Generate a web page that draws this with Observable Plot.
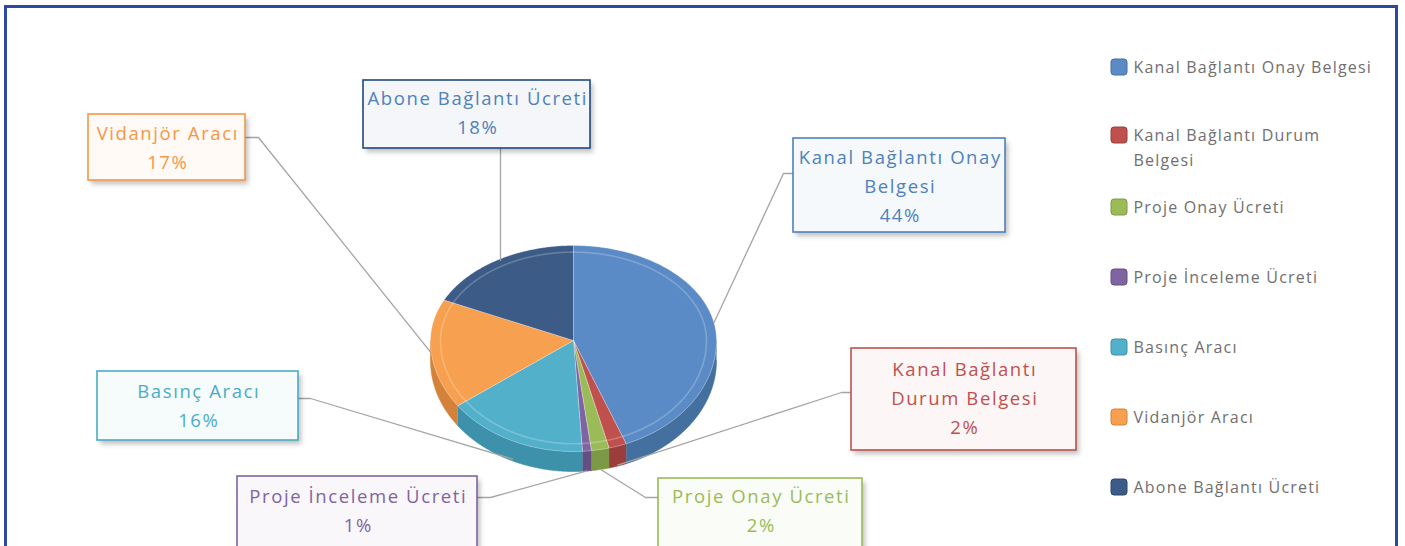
<!DOCTYPE html>
<html>
<head>
<meta charset="utf-8">
<script src="https://cdn.jsdelivr.net/npm/d3@7"></script>
<script src="https://cdn.jsdelivr.net/npm/@observablehq/plot@0.6"></script>
<style>
  html, body { margin: 0; padding: 0; background: #fff; }
  #wrap { position: relative; width: 1405px; height: 546px; overflow: hidden; }
  #frame { position: absolute; left: 4px; top: 5px; width: 1394px; height: 560px;
           border: 3px solid #2C4A9C; box-sizing: border-box; pointer-events: none; }
  g[aria-description="shadow"] { filter: blur(2.5px); }
  g[aria-description="labeltext"] text { letter-spacing: 1.6px; }
  g[aria-description="legendtext"] text { letter-spacing: 1.2px; }
</style>
</head>
<body>
<div id="wrap"><div id="chart"></div><div id="frame"></div></div>
<script>
// ---------- data ----------
const categories = [
  "Kanal Bağlantı Onay Belgesi",
  "Kanal Bağlantı Durum Belgesi",
  "Proje Onay Ücreti",
  "Proje İnceleme Ücreti",
  "Basınç Aracı",
  "Vidanjör Aracı",
  "Abone Bağlantı Ücreti"
];
const values = [44, 2, 2, 1, 16, 17, 18];
// data label text lines (as wrapped in the chart), percentage appended
const labelLines = [
  ["Kanal Bağlantı Onay", "Belgesi"],
  ["Kanal Bağlantı", "Durum Belgesi"],
  ["Proje Onay Ücreti"],
  ["Proje İnceleme Ücreti"],
  ["Basınç Aracı"],
  ["Vidanjör Aracı"],
  ["Abone Bağlantı Ücreti"]
];
const legendLines = [
  ["Kanal Bağlantı Onay Belgesi"],
  ["Kanal Bağlantı Durum", "Belgesi"],
  ["Proje Onay Ücreti"],
  ["Proje İnceleme Ücreti"],
  ["Basınç Aracı"],
  ["Vidanjör Aracı"],
  ["Abone Bağlantı Ücreti"]
];

// ---------- styles ----------
const topColors    = ["#5B8BC6", "#C0504D", "#9BBB59", "#8064A2", "#52B0CB", "#F7A050", "#3C5B87"];
const sideColors   = ["#44709F", "#9B3E3B", "#7C9A45", "#644E83", "#3D91AA", "#D4823A", "#2C456B"];
const textColors   = ["#4F81BD", "#C0504D", "#9BBB59", "#8064A2", "#4BACC6", "#F79646", "#4F81BD"];
const borderColors = ["#4F81BD", "#C0504D", "#9BBB59", "#8064A2", "#4BACC6", "#F79646", "#1F497D"];

// ---------- layout ----------
const W = 1405, H = 546;
const pie3d = {cx: 573, cy: 340, rx: 143, ryBack: 95, ryFront: 111, depth: 20};
// label boxes: [x1, y1, x2, y2, attachX, attachY, elbowX, firstLineY]
const labelBoxes = [
  [793, 138, 1005, 232, 793, 173, 783, 158],
  [851, 348, 1076, 450, 851, 392, 841, 370],
  [658, 478, 862, 560, 658, 497, 645, 497],
  [237, 476, 477, 560, 477, 497, 490, 497],
  [97, 371, 298, 440, 298, 398, 310, 392],
  [88, 114, 245, 180, 245, 137, 258, 134],
  [363, 80, 590, 148, 500, 148, 500, 99]
];
const lineStep = 28.7;
const legend = {x: 1111, size: 16, textX: 1133, top: 67, step: 70, wrap: 25};

// ---------- geometry ----------
function pt(aRad, r = 1, dz = 0) {
  const s = Math.sin(aRad), c = -Math.cos(aRad);
  return {
    x: pie3d.cx + pie3d.rx * r * s,
    y: pie3d.cy + (c < 0 ? pie3d.ryBack : pie3d.ryFront) * r * c + dz
  };
}
const arcs = d3.pie().sort(null).value(d => d)(values);
const step = Math.PI / 360;
function arcPts(a0, a1, r = 1, dz = 0) {
  const n = Math.max(2, Math.ceil((a1 - a0) / step));
  return d3.range(n + 1).map(k => pt(a0 + (a1 - a0) * k / n, r, dz));
}

const tops = [];
arcs.forEach((a, i) => {
  const c = categories[i];
  tops.push({cat: c, x: pie3d.cx, y: pie3d.cy});
  arcPts(a.startAngle, a.endAngle).forEach(p => tops.push({cat: c, ...p}));
  tops.push({cat: c, x: pie3d.cx, y: pie3d.cy});
});

const sides = arcs.map((a, i) => {
  const s0 = Math.max(a.startAngle, Math.PI / 2), s1 = Math.min(a.endAngle, 3 * Math.PI / 2);
  if (s1 <= s0) return [];
  const upper = arcPts(s0, s1);
  const lower = arcPts(s0, s1, 1, pie3d.depth).reverse();
  return [...upper, ...lower].map(p => ({cat: categories[i], ...p}));
});

const ring = arcPts(0, 2 * Math.PI, 0.93);

// leader lines
const leaders = [];
arcs.forEach((a, i) => {
  const mid = (a.startAngle + a.endAngle) / 2;
  const front = Math.max(0, -Math.cos(mid));
  let p = pt(mid, 1, pie3d.depth * front);
  const b = labelBoxes[i];
  if (i === 6) p = {x: b[4], y: p.y};
  leaders.push({id: i, x: p.x, y: p.y});
  leaders.push({id: i, x: b[6], y: b[5]});
  leaders.push({id: i, x: b[4], y: b[5]});
});

// label boxes & texts
const boxes = labelBoxes.map((b, i) => ({
  cat: categories[i], x1: b[0], y1: b[1], x2: b[2], y2: b[3],
  fill: d3.interpolateRgb(borderColors[i], "#ffffff")(0.95), stroke: borderColors[i]
}));
const labelTexts = [];
labelLines.forEach((lines, i) => {
  const b = labelBoxes[i];
  const cxT = (b[0] + b[2]) / 2 + 0.8;
  [...lines, values[i] + "%"].forEach((t, k) => {
    labelTexts.push({text: t, x: cxT, y: b[7] + k * lineStep, color: textColors[i]});
  });
});

// legend
const legendRows = categories.map((c, i) => {
  const yc = legend.top + i * legend.step - (legendLines[i].length > 1 ? 2 : 0);
  return {cat: c, x1: legend.x, x2: legend.x + legend.size, y1: yc - legend.size / 2, y2: yc + legend.size / 2, yc, i};
});
const legendTexts = [];
legendRows.forEach(r => legendLines[r.i].forEach((t, k) => legendTexts.push({text: t, x: legend.textX, y: r.yc + k * legend.wrap})));

const marks = [
  // side walls
  ...sides.map((s, i) => Plot.line(s, {x: "x", y: "y", fill: sideColors[i], stroke: sideColors[i], strokeWidth: 0.6, curve: "linear"})),
  // top faces
  Plot.line(tops, {x: "x", y: "y", z: "cat", fill: "cat", stroke: "rgba(255,255,255,0.35)", strokeWidth: 0.8, curve: "linear"}),
  Plot.line(ring, {x: "x", y: "y", stroke: "white", strokeOpacity: 0.22, strokeWidth: 1.6, curve: "linear"}),
  // leaders
  Plot.line(leaders, {x: "x", y: "y", z: "id", stroke: "#A5A5A5", strokeWidth: 1.3, curve: "linear"}),
  // label boxes
  Plot.rect(boxes, {x1: d => d.x1 + 3, x2: d => d.x2 + 3, y1: d => d.y1 + 4, y2: d => d.y2 + 4, fill: "#000", fillOpacity: 0.25, ariaDescription: "shadow"}),
  Plot.rect(boxes, {x1: "x1", x2: "x2", y1: "y1", y2: "y2", fill: d => d.fill, stroke: d => d.stroke, strokeWidth: 1.6}),
  Plot.text(labelTexts, {x: "x", y: "y", text: "text", fill: d => d.color, fontSize: 18.5, textAnchor: "middle", ariaDescription: "labeltext"}),
  // legend
  Plot.rect(legendRows, {x1: "x1", x2: "x2", y1: "y1", y2: "y2", fill: "cat", stroke: (d) => sideColors[d.i], strokeWidth: 1, rx: 3}),
  Plot.text(legendTexts, {x: "x", y: "y", text: "text", fill: "#707070", fontSize: 16, textAnchor: "start", ariaDescription: "legendtext"})
];

const chart = Plot.plot({
  width: W, height: H,
  marginTop: 0, marginRight: 0, marginBottom: 0, marginLeft: 0,
  x: {domain: [0, W], range: [0, W], axis: null},
  y: {domain: [0, H], range: [0, H], axis: null},
  color: {domain: [...categories, ...textColors, ...boxes.map(b => b.fill), ...borderColors, ...sideColors],
          range: [...topColors, ...textColors, ...boxes.map(b => b.fill), ...borderColors, ...sideColors]},
  style: {fontFamily: "'Open Sans', 'Noto Sans', sans-serif", background: "transparent", overflow: "visible"},
  marks
});
document.getElementById("chart").appendChild(chart);
</script>
</body>
</html>
